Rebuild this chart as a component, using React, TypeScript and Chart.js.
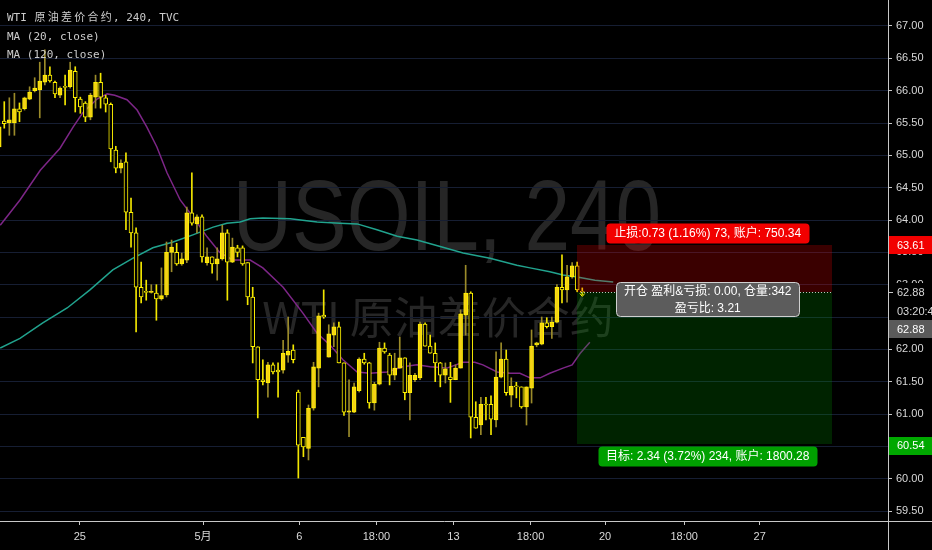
import { useEffect, useRef } from "react";
import { Chart, registerables } from "chart.js";

Chart.register(...registerables);

// 4-hour candles, oldest first
const opens = [
  65.13, 65.53, 65.5, 65.5, 65.72, 65.72, 65.87, 66.0, 66.01, 66.13,
  66.24, 66.13, 65.93, 66.06, 66.06, 66.3, 65.87, 65.81, 65.59, 65.9,
  66.13, 65.89, 65.79, 65.08, 64.8, 64.9, 64.12, 63.8, 62.96, 62.89,
  62.88, 62.87, 62.78, 62.84, 63.5, 63.5, 63.32, 63.38, 64.11, 63.94,
  64.05, 63.34, 63.43, 63.32, 63.4, 63.8, 63.35, 63.57, 63.57, 63.34,
  62.81, 62.04, 61.53, 61.48, 61.76, 61.68, 61.68, 61.91, 61.99, 61.34,
  60.64, 60.47, 61.09, 61.71, 62.53, 61.88, 62.22, 62.35, 61.79, 61.03,
  61.03, 61.36, 61.85, 61.79, 61.17, 61.46, 62.02, 61.91, 61.6, 61.71,
  61.87, 61.33, 61.53, 61.56, 62.39, 62.05, 61.94, 61.79, 61.6, 61.57,
  61.53, 61.71, 62.53, 62.87, 60.95, 60.83, 61.15, 61.15, 60.91, 61.57,
  61.85, 61.29, 61.43, 61.42, 61.11, 61.4, 62.07, 62.08, 62.41, 62.35,
  62.42, 62.96, 62.92, 63.12, 63.29, 62.89,
];
const highs = [
  65.55, 65.83, 65.89, 65.96, 65.81, 65.9, 66.06, 66.2, 66.44, 66.63,
  66.37, 66.15, 66.06, 66.24, 66.44, 66.37, 65.9, 65.83, 65.96, 66.24,
  66.27, 65.93, 65.81, 65.14, 64.93, 65.04, 64.34, 63.88, 63.35, 63.07,
  63.0, 63.0, 63.26, 63.66, 63.69, 63.64, 63.49, 64.2, 64.73, 64.08,
  64.08, 63.57, 63.43, 63.57, 63.92, 63.85, 63.72, 63.61, 63.6, 63.34,
  62.96, 62.04, 61.84, 61.8, 61.79, 61.79, 62.14, 62.5, 62.07, 61.37,
  60.64, 61.14, 61.8, 62.56, 62.92, 62.38, 62.41, 62.42, 61.79, 61.53,
  61.48, 61.87, 61.94, 61.8, 61.49, 62.11, 62.1, 61.94, 61.94, 62.19,
  61.87, 61.79, 61.63, 62.42, 62.41, 62.22, 62.1, 61.8, 61.79, 61.8,
  61.76, 62.61, 63.3, 62.89, 61.19, 61.26, 61.26, 61.28, 61.96, 62.1,
  61.99, 61.56, 61.49, 61.42, 61.42, 62.3, 62.11, 62.5, 62.49, 62.5,
  63.0, 63.46, 63.3, 63.34, 63.35, 62.95,
];
const lows = [
  65.08, 65.42, 65.31, 65.31, 65.52, 65.7, 65.86, 65.98, 65.58, 66.09,
  66.13, 65.89, 65.89, 65.78, 66.04, 65.67, 65.65, 65.52, 65.55, 65.73,
  65.73, 65.67, 64.9, 64.73, 64.73, 63.85, 63.58, 62.27, 62.72, 62.76,
  62.87, 62.45, 62.76, 62.81, 63.2, 63.3, 63.3, 63.34, 63.92, 63.8,
  63.35, 63.3, 63.18, 63.07, 63.38, 62.76, 63.34, 63.43, 63.3, 62.69,
  61.79, 60.94, 61.45, 61.26, 61.62, 61.26, 61.63, 61.8, 61.79, 60.01,
  60.34, 60.29, 61.06, 61.42, 62.48, 61.88, 62.04, 61.79, 60.98, 60.65,
  61.02, 61.34, 61.77, 61.09, 61.06, 61.45, 61.94, 61.45, 61.53, 61.71,
  61.22, 60.91, 61.5, 61.53, 62.05, 61.94, 61.5, 61.42, 61.48, 61.18,
  61.53, 61.71, 62.22, 60.63, 60.78, 60.68, 60.91, 60.68, 60.8, 61.56,
  61.29, 61.11, 61.25, 61.09, 60.83, 61.17, 62.04, 62.07, 62.33, 62.17,
  62.41, 62.72, 62.73, 63.1, 62.89, 62.84,
];
const closes = [
  65.44, 65.49, 65.55, 65.72, 65.67, 65.89, 65.98, 66.04, 66.15, 66.24,
  66.15, 65.95, 66.04, 66.05, 66.32, 65.89, 65.75, 65.59, 65.93, 66.13,
  65.9, 65.79, 65.1, 64.8, 64.88, 64.12, 63.8, 62.96, 62.81, 62.88,
  62.89, 62.78, 62.83, 63.5, 63.58, 63.32, 63.4, 64.11, 63.95, 64.05,
  63.43, 63.43, 63.32, 63.4, 63.8, 63.35, 63.58, 63.5, 63.32, 62.81,
  62.04, 61.53, 61.5, 61.76, 61.65, 61.65, 61.94, 61.97, 61.84, 60.52,
  60.49, 61.09, 61.73, 62.52, 62.5, 62.24, 62.35, 61.79, 61.03, 61.05,
  61.42, 61.85, 61.79, 61.17, 61.46, 62.02, 61.96, 61.6, 61.71, 61.87,
  61.33, 61.6, 61.6, 62.39, 62.05, 61.94, 61.79, 61.6, 61.7, 61.53,
  61.71, 62.55, 62.87, 60.95, 60.78, 61.15, 61.14, 60.92, 61.57, 61.85,
  61.33, 61.43, 61.42, 61.11, 61.42, 62.05, 62.1, 62.41, 62.35, 62.42,
  62.96, 62.92, 63.12, 63.29, 62.92, 62.88,
];

// moving averages, sampled along the bar index
const ma20Bars = [
  0.2, 4.1, 8.1, 12, 14.6, 16.5, 19.3, 21.3, 22.8, 25.2, 27.2, 29.1, 31.1,
  33.1, 35.7, 38.2, 41, 43.5, 46.1, 49.5, 52, 56, 59.9, 62.7, 65.2, 67.8,
  70.6, 73.1, 76.5, 79.6, 82.4, 85, 88.3, 91.5, 93.8, 95.4, 98.2, 100.8,
  102.7, 104.7, 106.7, 108.6, 111.2, 113, 114.6, 116.5,
];
const ma20Values = [
  63.92, 64.31, 64.77, 65.11, 65.44, 65.66, 65.87, 65.95, 65.93, 65.86,
  65.7, 65.44, 65.13, 64.73, 64.31, 64.05, 63.74, 63.5, 63.38, 63.38,
  63.26, 62.96, 62.56, 62.25, 62.07, 61.84, 61.65, 61.63, 61.65, 61.73,
  61.76, 61.73, 61.71, 61.8, 61.8, 61.76, 61.65, 61.63, 61.63, 61.56,
  61.56, 61.63, 61.71, 61.76, 61.94, 62.11,
];
const ma120Bars = [
  0.2, 4.1, 8.6, 13.4, 17.9, 22.4, 26.4, 30.3, 34.3, 38.2, 42.2, 44.9, 47.5,
  49.5, 52, 57.4, 62.7, 67.2, 70.6, 74.5, 78.5, 82.4, 87.5, 91.5, 96.8,
  102.1, 104.7, 108.6, 111.2, 114, 117.5, 121.1,
];
const ma120Values = [
  62.02, 62.17, 62.41, 62.64, 62.92, 63.23, 63.41, 63.57, 63.66, 63.77,
  63.89, 63.95, 63.97, 64.02, 64.03, 64.02, 63.97, 63.95, 63.94, 63.85,
  63.75, 63.69, 63.58, 63.49, 63.41, 63.3, 63.26, 63.2, 63.15, 63.12,
  63.07, 63.04,
];

// time axis
const timeTickBars = [15.9, 40.2, 59.2, 74.4, 89.6, 104.8, 119.5, 135.1, 150];
const timeTickLabels = ["25", "5月", "6", "18:00", "13", "18:00", "20", "18:00", "27"];
// price axis
const priceTicks = [
  59.5, 60, 60.5, 61, 61.5, 62, 62.5, 63, 63.5, 64, 64.5, 65, 65.5, 66, 66.5, 67,
];

// short position
const entryPrice = 62.88;
const stopPrice = 63.61;
const targetPrice = 60.54;
const positionFromBar = 114;
const positionToBar = 164.3;
const positionQty = 342;
const stopAccount = "750.34";
const targetAccount = "1800.28";
const countdown = "03:20:44";

const titleLines = ["WTI 原油差价合约, 240, TVC", "MA (20, close)", "MA (120, close)"];
const watermarkMain = "USOIL, 240";
const watermarkSub = "WTI 原油差价合约";

const X_MIN = 0.158;
const X_MAX = 175.3;
const Y_MIN = 59.346;
const Y_MAX = 67.402;

const UP_FILL = "#f5d216";
const EDGE = "#fff200";
const WICK_UP = "#9b8b2a";
const WICK_DOWN = "#f2e600";

const AXIS_FONT = '11px "Liberation Sans", "Noto Sans CJK SC", sans-serif';
const LABEL_FONT = '12px "Liberation Sans", "Noto Sans CJK SC", sans-serif';
const MONO_FONT = '11px "DejaVu Sans Mono", "Noto Sans CJK SC", monospace';

function tag(ctx: CanvasRenderingContext2D, yc: number, text: string, bg: string, fg: string, h = 18) {
  ctx.fillStyle = bg;
  ctx.fillRect(889, Math.round(yc - h / 2), 43, h);
  ctx.fillStyle = fg;
  ctx.font = AXIS_FONT;
  ctx.textAlign = "left";
  ctx.textBaseline = "middle";
  ctx.fillText(text, 897, yc + 0.5);
}

function pill(ctx: CanvasRenderingContext2D, cx: number, top: number, lines: string[], bg: string, h: number, border?: string) {
  ctx.font = LABEL_FONT;
  const w = Math.max(...lines.map((l) => ctx.measureText(l).width)) + 16;
  const x = Math.round(cx - w / 2) + 0.5;
  ctx.beginPath();
  ctx.roundRect(x, top + 0.5, Math.round(w), h, 4);
  ctx.fillStyle = bg;
  ctx.fill();
  if (border) {
    ctx.strokeStyle = border;
    ctx.lineWidth = 1;
    ctx.stroke();
  }
  ctx.fillStyle = "#ffffff";
  ctx.textAlign = "center";
  ctx.textBaseline = "middle";
  const step = h / lines.length;
  lines.forEach((l, k) => ctx.fillText(l, cx, top + step * (k + 0.5) + 1));
}

// terminal-style text: wide (CJK) glyphs take two cells
function monoText(ctx: CanvasRenderingContext2D, text: string, x: number, y: number) {
  ctx.font = MONO_FONT;
  const cell = ctx.measureText("M").width;
  let cx = x;
  for (const ch of text) {
    const wide = ch.charCodeAt(0) > 0x2e80;
    if (wide) {
      ctx.textAlign = "center";
      ctx.fillText(ch, cx + cell, y);
      cx += cell * 2;
    } else {
      ctx.textAlign = "left";
      ctx.fillText(ch, cx, y);
      cx += cell;
    }
  }
}

const decor = {
  id: "decor",
  beforeDraw(chart: any) {
    const { ctx, width, height, chartArea } = chart;
    ctx.save();
    ctx.fillStyle = "#000000";
    ctx.fillRect(0, 0, width, height);
    const cx = (chartArea.left + chartArea.right) / 2;
    ctx.fillStyle = "#262626";
    ctx.textAlign = "center";
    ctx.textBaseline = "alphabetic";
    ctx.save();
    ctx.translate(cx + 3, 250);
    ctx.scale(0.82, 1);
    ctx.font = '100px "Liberation Sans", sans-serif';
    ctx.fillText(watermarkMain, 0, 0);
    ctx.restore();
    ctx.textBaseline = "middle";
    ctx.font = '44px "Noto Sans CJK SC", sans-serif';
    ctx.fillText(watermarkSub, cx - 6, 317);
    ctx.restore();
  },
  afterDatasetsDraw(chart: any) {
    const { ctx } = chart;
    const xs = chart.scales.x;
    const ys = chart.scales.y;
    const x0 = Math.round(xs.getPixelForValue(positionFromBar));
    const x1 = Math.round(xs.getPixelForValue(positionToBar));
    const yS = Math.round(ys.getPixelForValue(stopPrice));
    const yE = Math.round(ys.getPixelForValue(entryPrice));
    const yT = Math.round(ys.getPixelForValue(targetPrice));
    ctx.save();
    ctx.fillStyle = "rgba(242, 0, 0, 0.24)";
    ctx.fillRect(x0, yS, x1 - x0, yE - yS);
    ctx.fillStyle = "rgba(0, 165, 0, 0.21)";
    ctx.fillRect(x0, yE, x1 - x0, yT - yE);
    ctx.strokeStyle = "rgba(210, 210, 210, 0.9)";
    ctx.setLineDash([1, 2]);
    ctx.lineWidth = 1;
    ctx.beginPath();
    ctx.moveTo(x0 + 4, yE + 0.5);
    ctx.lineTo(x1, yE + 0.5);
    ctx.stroke();
    ctx.setLineDash([]);
    // last-bar marker under the final candle
    const lx = xs.getPixelForValue(closes.length - 1);
    const ly = ys.getPixelForValue(closes[closes.length - 1]);
    ctx.strokeStyle = EDGE;
    ctx.beginPath();
    ctx.moveTo(lx - 2.5, ly + 1);
    ctx.lineTo(lx, ly + 4);
    ctx.lineTo(lx + 2.5, ly + 1);
    ctx.stroke();
    ctx.restore();
  },
  afterDraw(chart: any) {
    const { ctx, chartArea } = chart;
    const xs = chart.scales.x;
    const ys = chart.scales.y;
    const x0 = xs.getPixelForValue(positionFromBar);
    const x1 = xs.getPixelForValue(positionToBar);
    const cx = (x0 + x1) / 2 + 3;
    const yS = ys.getPixelForValue(stopPrice);
    const yE = ys.getPixelForValue(entryPrice);
    const yT = ys.getPixelForValue(targetPrice);
    const risk = stopPrice - entryPrice;
    const reward = entryPrice - targetPrice;
    ctx.save();

    // axis lines running past the plot corner
    ctx.strokeStyle = "#c8c8c8";
    ctx.lineWidth = 1;
    ctx.beginPath();
    ctx.moveTo(chartArea.right, chartArea.bottom + 0.5);
    ctx.lineTo(932, chartArea.bottom + 0.5);
    ctx.moveTo(chartArea.right + 0.5, chartArea.bottom);
    ctx.lineTo(chartArea.right + 0.5, 550);
    ctx.stroke();

    // order labels
    pill(
      ctx, cx, Math.round(yS) - 22,
      [`止损:${risk.toFixed(2)} (${((risk / entryPrice) * 100).toFixed(2)}%) ${Math.round(risk * 100)}, 账户: ${stopAccount}`],
      "#f20000", 20,
    );
    pill(
      ctx, cx, Math.round(yE) - 10,
      [`开仓 盈利&亏损: 0.00, 仓量:${positionQty}`, `盈亏比: ${(reward / risk).toFixed(2)}`],
      "#5c5c5c", 34, "#d0d0d0",
    );
    pill(
      ctx, cx, Math.round(yT) + 2,
      [`目标: ${reward.toFixed(2)} (${((reward / entryPrice) * 100).toFixed(2)}%) ${Math.round(reward * 100)}, 账户: ${targetAccount}`],
      "#00a000", 20,
    );

    // price scale tags
    tag(ctx, yS, stopPrice.toFixed(2), "#f20000", "#ffffff");
    tag(ctx, yE, entryPrice.toFixed(2), "#000000", "#d8d8d8");
    ctx.fillStyle = "#c8c8c8";
    ctx.fillRect(889, Math.round(yE), 4, 1);
    tag(ctx, yE + 19, countdown, "#000000", "#d8d8d8");
    tag(ctx, yE + 37, closes[closes.length - 1].toFixed(2), "#5a5a5a", "#ffffff");
    tag(ctx, yT + 2, targetPrice.toFixed(2), "#00a800", "#ffffff");

    // legend
    ctx.fillStyle = "#cccccc";
    ctx.textBaseline = "middle";
    titleLines.forEach((t, k) => monoText(ctx, t, 7, [18, 37, 55][k]));
    ctx.restore();
  },
};

export default function App() {
  const ref = useRef<HTMLCanvasElement>(null);

  useEffect(() => {
    document.body.style.margin = "0";
    document.body.style.background = "#000";
    const canvas = ref.current;
    if (!canvas) return;
    const bars = closes.map((_, i) => i);
    const isUp = (i: number) => closes[i] >= opens[i];

    const chart = new Chart(canvas, {
      type: "bar",
      data: {
        datasets: [
          {
            type: "line",
            label: "MA (120, close)",
            data: ma120Bars.map((x, k) => ({ x, y: ma120Values[k] })),
            borderColor: "#21a38e",
            borderWidth: 1.5,
            pointRadius: 0,
            tension: 0,
            order: 3,
          },
          {
            type: "line",
            label: "MA (20, close)",
            data: ma20Bars.map((x, k) => ({ x, y: ma20Values[k] })),
            borderColor: "#7d2687",
            borderWidth: 1.5,
            pointRadius: 0,
            tension: 0,
            order: 2,
          },
          {
            type: "bar",
            label: "wick",
            data: bars.map((i) => ({ x: i, y: [lows[i], highs[i]] })),
            backgroundColor: bars.map((i) => (isUp(i) ? WICK_UP : WICK_DOWN)),
            borderWidth: 0,
            barThickness: 1,
            grouped: false,
            order: 1,
          },
          {
            type: "bar",
            label: "body",
            data: bars.map((i) => ({ x: i, y: [opens[i], closes[i]] })),
            backgroundColor: bars.map((i) => (isUp(i) ? UP_FILL : "#000000")),
            borderColor: EDGE,
            borderWidth: 1,
            borderSkipped: false,
            barThickness: 4,
            minBarLength: 1,
            grouped: false,
            order: 0,
          },
        ] as any,
      },
      options: {
        responsive: false,
        animation: false,
        devicePixelRatio: 1,
        events: [],
        layout: { padding: 0 },
        plugins: { legend: { display: false }, tooltip: { enabled: false } },
        scales: {
          x: {
            type: "linear",
            min: X_MIN,
            max: X_MAX,
            offset: false,
            position: "bottom",
            grid: { drawOnChartArea: false, drawTicks: true, tickLength: 4, tickColor: "#c8c8c8", offset: false },
            border: { display: true, color: "#c8c8c8", width: 1 },
            ticks: {
              color: "#d8d8d8",
              font: { family: '"Liberation Sans", "Noto Sans CJK SC", sans-serif', size: 11 },
              padding: 5,
              maxRotation: 0,
              autoSkip: false,
              callback: (_v: any, i: number) => timeTickLabels[i],
            },
            afterBuildTicks: (s: any) => {
              s.ticks = timeTickBars.map((v) => ({ value: v }));
            },
            afterFit: (s: any) => {
              s.height = 29;
              s.paddingLeft = 0;
              s.paddingRight = 0;
            },
          },
          y: {
            type: "linear",
            position: "right",
            min: Y_MIN,
            max: Y_MAX,
            beginAtZero: false,
            grid: { color: "#161e33", drawTicks: true, tickLength: 4, tickColor: "#c8c8c8" },
            border: { display: true, color: "#c8c8c8", width: 1 },
            ticks: {
              color: "#d8d8d8",
              font: { family: '"Liberation Sans", sans-serif', size: 11 },
              padding: 4,
              callback: (v: any) => Number(v).toFixed(2),
            },
            afterBuildTicks: (s: any) => {
              s.ticks = priceTicks.map((v) => ({ value: v }));
            },
            afterFit: (s: any) => {
              s.width = 44;
              s.paddingTop = 0;
              s.paddingBottom = 0;
            },
          },
        },
      } as any,
      plugins: [decor],
    });
    return () => chart.destroy();
  }, []);

  return (
    <div style={{ width: 932, height: 550, background: "#000" }}>
      <canvas ref={ref} width={932} height={550} style={{ display: "block" }} />
    </div>
  );
}
